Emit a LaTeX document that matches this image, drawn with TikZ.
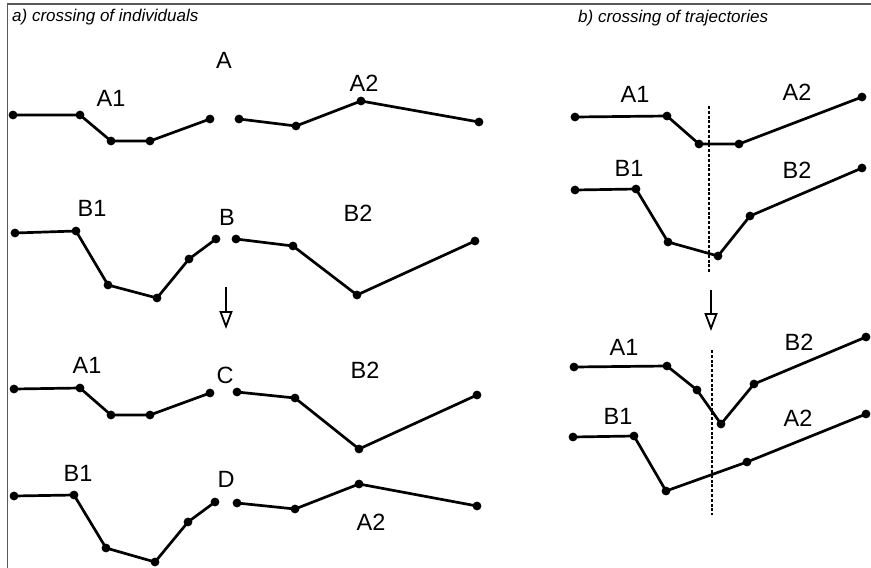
\documentclass[tikz,border=0pt]{standalone}
\usepackage{fontspec}
\setmainfont{Liberation Sans}
\usetikzlibrary{arrows.meta}
\begin{document}
\begin{tikzpicture}[x=1pt,y=-1pt,
  dot/.style={circle,fill=black,inner sep=0pt,minimum size=8.8pt},
  traj/.style={line width=2.7pt,line join=round},
  lbl/.style={inner sep=0pt,font=\fontsize{23.5}{23.5}\selectfont},
  ttl/.style={inner sep=0pt,anchor=base west,font=\fontsize{17}{17}\selectfont\itshape},
  frame/.style={draw=black!65,line width=1.5pt},
  cut/.style={line width=2.4pt,dash pattern=on 3pt off 1.8pt},
  down/.style={line width=1.8pt,-{Triangle[open,length=18pt,width=13pt,line width=1.8pt]}}]
\useasboundingbox (0,0) rectangle (871,568);
% frame
\coordinate (f1) at (7.5,568);
\coordinate (f2) at (7.5,4);
\coordinate (f3) at (871,4);
\draw[frame] (f1) -- (f2) -- (f3);
% titles
\node[ttl] (ta) at (12,21) {a) crossing of individuals};
\node[ttl] (tb) at (578,22) {b) crossing of trajectories};

% ---------- panel a ----------
% row A
\node[dot] (aa1) at (13,115) {};
\node[dot] (aa2) at (80,115) {};
\node[dot] (aa3) at (111,141) {};
\node[dot] (aa4) at (150,141) {};
\node[dot] (aa5) at (210,119) {};
\node[dot] (ab1) at (239,119) {};
\node[dot] (ab2) at (296,126) {};
\node[dot] (ab3) at (361,101) {};
\node[dot] (ab4) at (479,122) {};
\draw[traj] (aa1.center) -- (aa2.center) -- (aa3.center) -- (aa4.center) -- (aa5.center);
\draw[traj] (ab1.center) -- (ab2.center) -- (ab3.center) -- (ab4.center);
\node[lbl] (lA) at (224,60) {A};
\node[lbl] (lA1) at (111,98) {A1};
\node[lbl] (lA2) at (364,83) {A2};
% row B
\node[dot] (ba1) at (15,233) {};
\node[dot] (ba2) at (76,231) {};
\node[dot] (ba3) at (108,285) {};
\node[dot] (ba4) at (157,298) {};
\node[dot] (ba5) at (189,259) {};
\node[dot] (ba6) at (216,239) {};
\node[dot] (bb1) at (236,239) {};
\node[dot] (bb2) at (293,246) {};
\node[dot] (bb3) at (357,295) {};
\node[dot] (bb4) at (475,241) {};
\draw[traj] (ba1.center) -- (ba2.center) -- (ba3.center) -- (ba4.center) -- (ba5.center) -- (ba6.center);
\draw[traj] (bb1.center) -- (bb2.center) -- (bb3.center) -- (bb4.center);
\node[lbl] (lB1) at (92,208) {B1};
\node[lbl] (lB) at (227,217) {B};
\node[lbl] (lB2) at (358,213) {B2};
% arrow a
\coordinate (dwa1) at (226,287);
\coordinate (dwa2) at (226,329);
\draw[down] (dwa1) -- (dwa2);
% row C
\node[dot] (ca1) at (14,389) {};
\node[dot] (ca2) at (80,388) {};
\node[dot] (ca3) at (111,415) {};
\node[dot] (ca4) at (150,415) {};
\node[dot] (ca5) at (210,393) {};
\node[dot] (cb1) at (237,392) {};
\node[dot] (cb2) at (295,398) {};
\node[dot] (cb3) at (359,449) {};
\node[dot] (cb4) at (477,395) {};
\draw[traj] (ca1.center) -- (ca2.center) -- (ca3.center) -- (ca4.center) -- (ca5.center);
\draw[traj] (cb1.center) -- (cb2.center) -- (cb3.center) -- (cb4.center);
\node[lbl] (lcA1) at (87,365) {A1};
\node[lbl] (lC) at (225,375) {C};
\node[lbl] (lcB2) at (365,370) {B2};
% row D
\node[dot] (da1) at (14,496) {};
\node[dot] (da2) at (74,495) {};
\node[dot] (da3) at (106,548) {};
\node[dot] (da4) at (155,562) {};
\node[dot] (da5) at (188,522) {};
\node[dot] (da6) at (215,502) {};
\node[dot] (db1) at (237,503) {};
\node[dot] (db2) at (295,509) {};
\node[dot] (db3) at (359,484) {};
\node[dot] (db4) at (477,506) {};
\draw[traj] (da1.center) -- (da2.center) -- (da3.center) -- (da4.center) -- (da5.center) -- (da6.center);
\draw[traj] (db1.center) -- (db2.center) -- (db3.center) -- (db4.center);
\node[lbl] (ldB1) at (78,473) {B1};
\node[lbl] (lD) at (226,479) {D};
\node[lbl] (ldA2) at (371,522) {A2};

% ---------- panel b ----------
% top pair
\coordinate (cut1a) at (709,106);
\coordinate (cut1b) at (709,272);
\draw[cut] (cut1a) -- (cut1b);
\node[dot] (ra1) at (575,117) {};
\node[dot] (ra2) at (667,116) {};
\node[dot] (ra3) at (699,144) {};
\node[dot] (ra4) at (739,144) {};
\node[dot] (ra5) at (862,97) {};
\draw[traj] (ra1.center) -- (ra2.center) -- (ra3.center) -- (ra4.center) -- (ra5.center);
\node[dot] (rb1) at (575,190) {};
\node[dot] (rb2) at (636,189) {};
\node[dot] (rb3) at (668,242) {};
\node[dot] (rb4) at (718,256) {};
\node[dot] (rb5) at (750,216) {};
\node[dot] (rb6) at (862,168) {};
\draw[traj] (rb1.center) -- (rb2.center) -- (rb3.center) -- (rb4.center) -- (rb5.center) -- (rb6.center);
\node[lbl] (lrA1) at (635,94) {A1};
\node[lbl] (lrA2) at (797,92) {A2};
\node[lbl] (lrB1) at (629,168) {B1};
\node[lbl] (lrB2) at (797,170) {B2};
% arrow b
\coordinate (dwb1) at (711,290);
\coordinate (dwb2) at (711,331);
\draw[down] (dwb1) -- (dwb2);
% bottom pair
\coordinate (cut2a) at (712,350);
\coordinate (cut2b) at (712,515);
\draw[cut] (cut2a) -- (cut2b);
\node[dot] (sa1) at (574,367) {};
\node[dot] (sa2) at (667,366) {};
\node[dot] (sa3) at (697,390) {};
\node[dot] (sa4) at (721,424) {};
\node[dot] (sa5) at (754,384) {};
\node[dot] (sa6) at (866,337) {};
\draw[traj] (sa1.center) -- (sa2.center) -- (sa3.center) -- (sa4.center) -- (sa5.center) -- (sa6.center);
\node[dot] (sb1) at (573,437) {};
\node[dot] (sb2) at (634,436) {};
\node[dot] (sb3) at (666,491) {};
\node[dot] (sb4) at (747,462) {};
\node[dot] (sb5) at (866,414) {};
\draw[traj] (sb1.center) -- (sb2.center) -- (sb3.center) -- (sb4.center) -- (sb5.center);
\node[lbl] (lsA1) at (624,347) {A1};
\node[lbl] (lsB2) at (799,342) {B2};
\node[lbl] (lsB1) at (618,416) {B1};
\node[lbl] (lsA2) at (798,418) {A2};
\end{tikzpicture}
\end{document}
